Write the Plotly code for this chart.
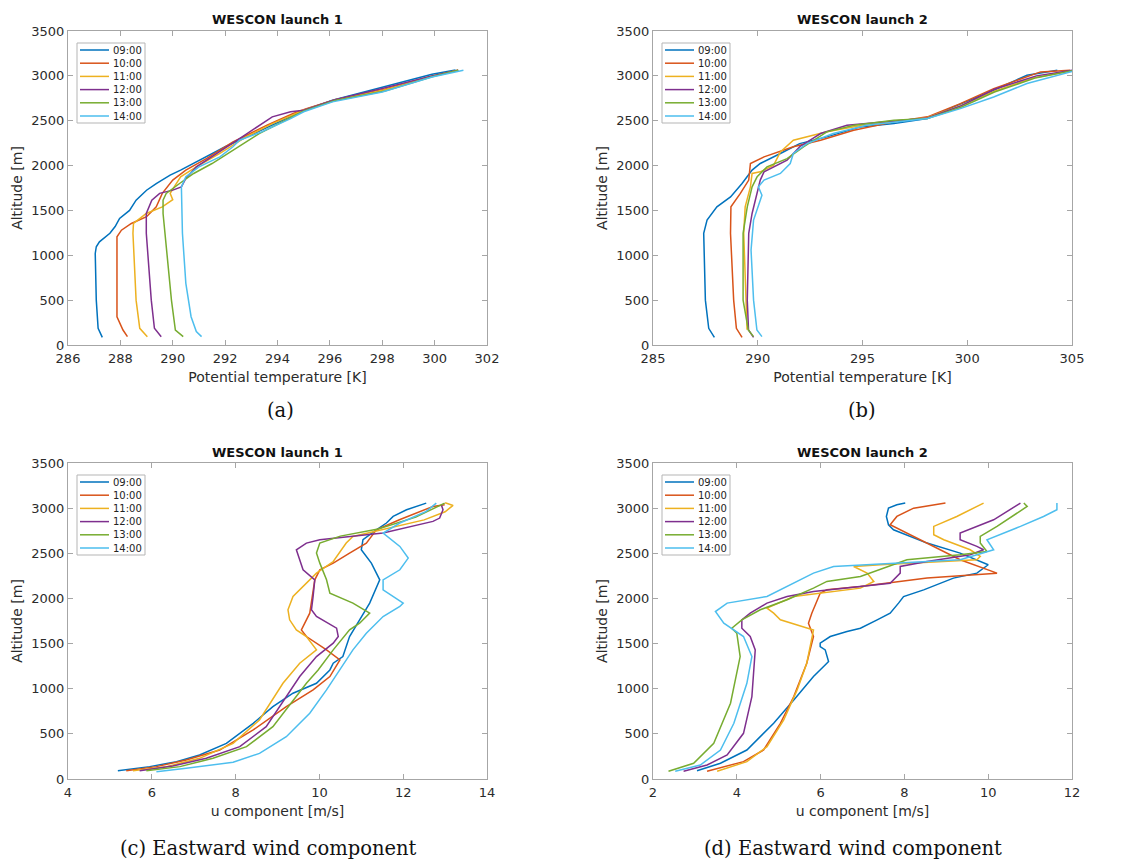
import plotly.graph_objects as go

times = ["09:00", "10:00", "11:00", "12:00", "13:00", "14:00"]
colors = ["#0072BD", "#D95319", "#EDB120", "#7E2F8E", "#77AC30", "#4DBEEE"]

# ---------------- Panel (a): potential temperature, launch 1 ----------------
a_theta = [
    [287.31, 287.15, 287.08, 287.04, 287.08, 287.2, 287.6, 287.8, 287.97, 288.35, 288.6, 289.0, 289.37, 289.9, 290.3, 291.0, 292.0, 293.1, 294.2, 295.0, 296.1, 298.0, 299.9, 300.8],
    [288.27, 288.1, 287.87, 287.85, 287.87, 288.04, 288.42, 289.0, 289.37, 289.6, 290.0, 290.5, 291.3, 292.3, 293.6, 294.6, 295.1, 296.2, 298.1, 299.8, 300.9],
    [289.03, 288.74, 288.6, 288.48, 288.5, 288.99, 289.6, 290.0, 289.9, 290.1, 290.3, 290.9, 291.8, 292.8, 293.8, 295.0, 296.2, 298.1, 299.9, 300.9],
    [289.56, 289.3, 289.18, 288.99, 288.99, 289.2, 289.5, 290.0, 290.33, 290.5, 290.9, 291.7, 292.55, 293.8, 294.5, 295.0, 296.2, 298.0, 299.9, 300.9],
    [290.4, 290.1, 289.95, 289.63, 289.63, 289.75, 290.26, 290.8, 291.5, 292.3, 293.3, 294.3, 295.0, 296.2, 298.1, 299.9, 300.9],
    [291.1, 290.9, 290.7, 290.5, 290.37, 290.33, 290.5, 291.0, 291.8, 292.3, 292.55, 293.4, 294.5, 295.0, 296.1, 298.0, 299.9, 301.1],
]
a_alt = [
    [85, 186, 500, 1020, 1095, 1150, 1245, 1320, 1410, 1500, 1615, 1725, 1800, 1893, 1950, 2060, 2210, 2357, 2505, 2615, 2728, 2877, 3018, 3065],
    [93, 167, 315, 1020, 1206, 1280, 1355, 1430, 1540, 1690, 1838, 1950, 2080, 2265, 2450, 2580, 2635, 2735, 2850, 2990, 3062],
    [93, 186, 500, 1245, 1355, 1466, 1540, 1620, 1690, 1780, 1875, 1985, 2135, 2320, 2468, 2617, 2730, 2845, 2995, 3062],
    [93, 186, 500, 1245, 1466, 1615, 1690, 1726, 1763, 1856, 1985, 2135, 2300, 2543, 2600, 2617, 2735, 2860, 3000, 3062],
    [93, 167, 500, 1466, 1615, 1690, 1800, 1912, 2023, 2172, 2357, 2505, 2610, 2725, 2830, 2990, 3062],
    [93, 150, 315, 687, 1245, 1763, 1875, 1985, 2097, 2210, 2283, 2376, 2524, 2600, 2710, 2820, 2988, 3062],
]

# ---------------- Panel (b): potential temperature, launch 2 ----------------
b_theta = [
    [287.93, 287.66, 287.5, 287.42, 287.58, 288.05, 288.7, 289.25, 289.73, 290.12, 291.08, 292.0, 293.3, 294.9, 296.5, 298.1, 299.35, 301.26, 302.85, 304.3],
    [289.25, 288.98, 288.85, 288.7, 288.72, 289.17, 289.57, 289.65, 290.3, 291.7, 293.0, 294.58, 296.5, 298.1, 299.67, 301.26, 303.5, 304.9],
    [289.49, 289.45, 289.33, 289.4, 289.65, 289.73, 290.12, 290.76, 291.08, 291.7, 292.0, 292.35, 293.3, 294.8, 296.5, 298.1, 299.6, 301.3, 303.2, 305.1],
    [289.8, 289.56, 289.5, 289.57, 289.73, 289.97, 290.12, 290.3, 291.4, 292.0, 293.0, 294.26, 296.5, 298.1, 299.7, 301.3, 303.3, 305.0],
    [289.8, 289.55, 289.3, 289.3, 289.5, 289.73, 289.97, 290.44, 291.4, 292.2, 293.3, 294.6, 296.5, 298.1, 299.7, 301.3, 303.3, 305.1],
    [290.2, 289.96, 289.8, 289.68, 289.8, 290.2, 290.03, 290.3, 291.08, 291.55, 291.7, 292.35, 293.6, 295.2, 298.1, 299.67, 301.26, 302.85, 305.2],
]
b_alt = [
    [85, 186, 500, 1245, 1392, 1540, 1650, 1800, 1950, 2023, 2135, 2245, 2320, 2431, 2468, 2524, 2654, 2840, 3007, 3062],
    [85, 186, 500, 1245, 1540, 1690, 1838, 2023, 2097, 2210, 2283, 2394, 2487, 2543, 2691, 2858, 3044, 3062],
    [170, 500, 1245, 1540, 1763, 1912, 1930, 2005, 2153, 2283, 2300, 2320, 2376, 2440, 2490, 2535, 2660, 2830, 2980, 3062],
    [85, 167, 500, 1245, 1466, 1690, 1838, 1930, 2060, 2210, 2357, 2450, 2495, 2530, 2665, 2850, 3000, 3062],
    [93, 167, 500, 1245, 1540, 1763, 1875, 1985, 2078, 2210, 2376, 2450, 2505, 2524, 2650, 2820, 2980, 3062],
    [93, 167, 500, 1058, 1392, 1670, 1763, 1838, 1912, 2023, 2135, 2245, 2357, 2450, 2524, 2635, 2765, 2914, 3062],
]

# ---------------- Panel (c): u component, launch 1 ----------------
c_u = [
    [5.19, 5.95, 6.59, 7.14, 7.78, 8.42, 8.89, 9.37, 9.93, 10.25, 10.33, 10.56, 10.72, 10.96, 11.2, 11.44, 11.24, 11.0, 11.04, 11.36, 11.6, 11.76, 12.08, 12.55],
    [5.39, 6.11, 6.82, 7.62, 8.42, 9.21, 9.85, 10.25, 10.49, 10.17, 9.69, 9.57, 9.77, 9.89, 10.01, 10.33, 10.72, 11.12, 11.36, 11.91, 12.71, 12.99],
    [5.55, 6.35, 7.14, 7.94, 8.57, 9.13, 9.53, 9.93, 9.69, 9.45, 9.29, 9.25, 9.37, 9.61, 9.93, 10.33, 10.64, 10.8, 11.5, 12.5, 13.0, 13.19, 13.0],
    [5.71, 6.5, 7.3, 8.1, 8.73, 9.21, 9.53, 9.93, 10.33, 10.45, 10.41, 9.93, 9.81, 9.85, 9.89, 9.61, 9.45, 9.69, 10.01, 11.52, 12.71, 12.87, 12.95, 12.91],
    [5.87, 6.67, 7.46, 8.26, 8.89, 9.37, 9.69, 9.97, 10.33, 10.72, 10.96, 11.2, 10.8, 10.25, 10.17, 10.01, 9.93, 10.01, 10.5, 11.4, 12.3, 12.99],
    [6.11, 6.82, 7.94, 8.57, 9.21, 9.77, 10.17, 10.49, 10.8, 11.12, 11.52, 11.92, 12.0, 11.52, 11.52, 11.92, 12.12, 11.92, 11.52, 11.92, 12.55, 12.79],
]
c_alt = [
    [92, 137, 192, 266, 395, 617, 802, 950, 1060, 1208, 1282, 1356, 1578, 1763, 1948, 2206, 2391, 2539, 2650, 2760, 2835, 2908, 2982, 3056],
    [92, 137, 210, 321, 543, 802, 987, 1135, 1319, 1430, 1578, 1652, 1837, 2206, 2317, 2391, 2502, 2613, 2760, 2871, 3019, 3037],
    [92, 137, 229, 395, 654, 1060, 1282, 1430, 1578, 1652, 1763, 1874, 2021, 2132, 2280, 2409, 2613, 2687, 2760, 2870, 2960, 3030, 3060],
    [92, 144, 229, 358, 580, 913, 1135, 1356, 1504, 1578, 1670, 1800, 1874, 2021, 2206, 2317, 2539, 2613, 2650, 2724, 2853, 2890, 2982, 3037],
    [92, 137, 229, 358, 580, 876, 1060, 1208, 1430, 1652, 1726, 1837, 1948, 2058, 2206, 2391, 2502, 2613, 2690, 2770, 2900, 3056],
    [81, 118, 185, 284, 469, 728, 987, 1208, 1430, 1615, 1800, 1911, 1948, 2095, 2206, 2317, 2447, 2576, 2724, 2835, 2964, 3056],
]

# ---------------- Panel (d): u component, launch 2 ----------------
d_u = [
    [3.05, 3.61, 4.24, 4.88, 5.36, 5.83, 6.15, 6.19, 6.11, 5.99, 5.99, 6.23, 6.63, 6.95, 7.35, 7.66, 7.86, 7.98, 8.46, 9.17, 9.73, 10.0, 9.33, 8.54, 7.74, 7.62, 7.57, 7.62, 7.82, 8.02],
    [3.29, 4.16, 4.64, 5.04, 5.36, 5.67, 5.83, 5.71, 5.79, 5.99, 6.15, 6.95, 8.54, 10.21, 9.33, 8.54, 7.66, 7.82, 8.22, 8.98],
    [3.53, 4.24, 4.72, 5.12, 5.44, 5.67, 5.83, 5.04, 4.88, 4.72, 5.36, 6.95, 7.27, 7.11, 6.79, 7.43, 9.73, 9.81, 9.57, 8.94, 8.7, 8.7, 9.25, 9.89],
    [2.73, 3.29, 3.77, 4.16, 4.36, 4.44, 4.32, 4.12, 4.12, 4.32, 4.72, 5.2, 5.83, 6.95, 7.66, 7.9, 7.9, 8.54, 9.57, 9.89, 9.73, 9.33, 9.33, 10.13, 10.77],
    [2.37, 2.97, 3.45, 3.85, 4.08, 4.0, 3.88, 4.12, 4.56, 5.2, 5.83, 6.15, 6.95, 8.06, 9.33, 9.97, 9.81, 9.81, 10.21, 10.93, 10.85],
    [2.53, 3.13, 3.61, 3.93, 4.24, 4.36, 4.16, 3.93, 3.69, 3.49, 3.73, 3.77, 4.72, 5.04, 5.36, 5.83, 6.31, 7.74, 9.33, 10.13, 9.97, 10.77, 11.32, 11.64, 11.64],
]
d_alt = [
    [92, 174, 321, 617, 876, 1135, 1282, 1300, 1430, 1467, 1504, 1578, 1633, 1670, 1763, 1837, 1948, 2021, 2095, 2225, 2280, 2373, 2502, 2613, 2760, 2816, 2908, 3000, 3037, 3056],
    [85, 192, 321, 617, 913, 1282, 1578, 1726, 1837, 2058, 2095, 2132, 2225, 2280, 2428, 2613, 2816, 2908, 3000, 3056],
    [85, 192, 358, 654, 987, 1282, 1650, 1763, 1837, 1893, 2021, 2114, 2188, 2280, 2354, 2373, 2428, 2465, 2539, 2650, 2705, 2798, 2908, 3056],
    [85, 155, 266, 506, 913, 1430, 1578, 1670, 1763, 1837, 1948, 2021, 2077, 2132, 2169, 2280, 2354, 2409, 2483, 2539, 2576, 2650, 2724, 2871, 3056],
    [85, 174, 395, 839, 1356, 1615, 1670, 1763, 1874, 1985, 2114, 2188, 2243, 2428, 2483, 2520, 2613, 2687, 2798, 3019, 3056],
    [85, 155, 321, 617, 1060, 1356, 1578, 1652, 1726, 1855, 1930, 1948, 2021, 2095, 2169, 2280, 2354, 2391, 2428, 2539, 2650, 2798, 2908, 2982, 3056],
]

panel_titles = ["WESCON launch 1", "WESCON launch 2", "WESCON launch 1", "WESCON launch 2"]
x_titles = ["Potential temperature [K]", "Potential temperature [K]", "u component [m/s]", "u component [m/s]"]
captions = ["(a)", "(b)", "(c) Eastward wind component", "(d) Eastward wind component"]
x_ranges = [[286, 302], [285, 305], [4, 14], [2, 12]]
x_dticks = [2, 5, 2, 2]
y_range = [0, 3500]

# The page body keeps the browser's default 8 px margin, so the figure is
# sized to fit the 1121x868 window and all positions are shifted by 8 px.
OFF = 8
W, H = 1121 - 2 * OFF, 868 - 2 * OFF
# pixel boxes of each plot area in window coordinates (left, right, top, bottom)
boxes = [(68, 487, 31, 345), (653, 1072, 31, 345), (68, 487, 463, 779), (653, 1072, 463, 779)]
caption_pos = [(280, 410), (862, 410), (268, 848), (853, 848)]

panels = [(a_theta, a_alt), (b_theta, b_alt), (c_u, c_alt), (d_u, d_alt)]

fig = go.Figure()
axis_col = "#a6a6a6"
txt_col = "#2b2b2b"
tick_font = dict(family="DejaVu Sans", size=13, color=txt_col)
title_font = dict(family="DejaVu Sans", size=14, color=txt_col)


def px(x):
    return (x - OFF) / W


def py(y):
    return 1 - (y - OFF) / H


shapes = []
annotations = []
for p, (xs, ys) in enumerate(panels):
    sfx = "" if p == 0 else str(p + 1)
    xref = "x" + sfx
    yref = "y" + sfx
    for i in range(6):
        fig.add_trace(go.Scatter(
            x=xs[i], y=ys[i], mode="lines", name=times[i],
            line=dict(color=colors[i], width=1.5),
            xaxis=xref, yaxis=yref, showlegend=False,
        ))
    l, r, t, b = boxes[p]
    fig.layout["xaxis" + sfx] = dict(
        domain=[px(l), px(r)], anchor=yref, range=x_ranges[p], dtick=x_dticks[p],
        showgrid=False, zeroline=False, showline=True, linecolor=axis_col, linewidth=1,
        mirror="ticks", ticks="inside", ticklen=5, tickcolor=axis_col,
        tickfont=tick_font, ticklabelstandoff=1, automargin=False,
        title=dict(text=x_titles[p], font=title_font, standoff=7),
    )
    fig.layout["yaxis" + sfx] = dict(
        domain=[py(b), py(t)], anchor=xref, range=y_range, dtick=500,
        showgrid=False, zeroline=False, showline=True, linecolor=axis_col, linewidth=1,
        mirror="ticks", ticks="inside", ticklen=5, tickcolor=axis_col,
        tickfont=tick_font, automargin=False,
        title=dict(text="Altitude [m]", font=title_font, standoff=5),
    )
    # panel title
    annotations.append(dict(
        text="<b>" + panel_titles[p] + "</b>", xref="paper", yref="paper",
        x=px((l + r) / 2), y=py(t - 11), xanchor="center", yanchor="middle",
        showarrow=False, font=dict(family="DejaVu Sans", size=13, color="#111111"),
    ))
    # caption
    cx, cy = caption_pos[p]
    annotations.append(dict(
        text=captions[p], xref="paper", yref="paper",
        x=px(cx), y=py(cy), xanchor="center", yanchor="middle",
        showarrow=False, font=dict(family="DejaVu Serif", size=19.5, color="#111111"),
    ))
    # legend box (drawn inside axis domain)
    dx = xref + " domain"
    dy = yref + " domain"
    pw, ph = r - l, b - t
    shapes.append(dict(type="rect", xref=dx, yref=dy, x0=9 / pw, x1=77 / pw,
                       y0=1 - 92 / ph, y1=1 - 12 / ph,
                       line=dict(color="#b5b5b5", width=1), fillcolor="white", layer="above"))
    for i in range(6):
        yc = 1 - (19 + 13.2 * i) / ph
        shapes.append(dict(type="line", xref=dx, yref=dy, x0=12 / pw, x1=41 / pw, y0=yc, y1=yc,
                           line=dict(color=colors[i], width=1.5), layer="above"))
        annotations.append(dict(
            text=times[i], xref=dx, yref=dy, x=43 / pw, y=yc, xanchor="left", yanchor="middle",
            showarrow=False, font=dict(family="DejaVu Sans", size=10, color="#222222"),
        ))

fig.update_layout(
    width=W, height=H,
    margin=dict(l=0, r=0, t=0, b=0),
    paper_bgcolor="white", plot_bgcolor="white",
    showlegend=False,
    shapes=shapes, annotations=annotations,
)

fig.write_html("out.html")
